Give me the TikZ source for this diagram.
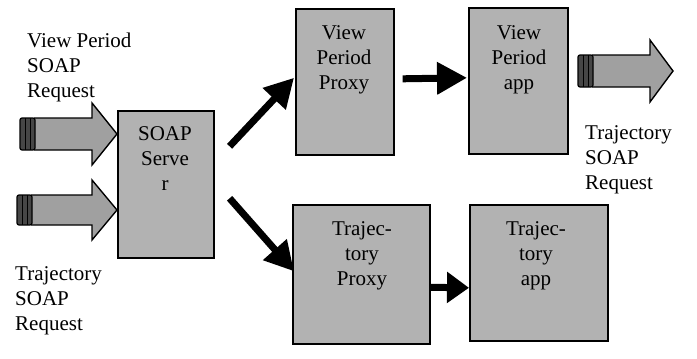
\documentclass[tikz,border=0pt]{standalone}
\usepackage{fontspec}
\setmainfont{Liberation Serif}
\usetikzlibrary{arrows.meta}
\definecolor{boxgray}{RGB}{178,178,178}
\definecolor{blockgray}{RGB}{160,160,160}
\definecolor{tailgray}{RGB}{70,70,70}
\tikzset{
  procbox/.style={draw=black, line width=1.6pt, fill=boxgray, inner sep=0pt, anchor=north west},
  boxtext/.style={anchor=north, align=center, inner sep=0pt, font=\fontsize{21}{25}\selectfont},
  labeltext/.style={anchor=north west, align=left, inner sep=0pt, font=\fontsize{21}{25}\selectfont},
  flow/.style={line width=7pt, -{Triangle[length=29pt,width=30pt]}},
  blockbody/.style={draw=black, line width=1.4pt, fill=blockgray, line join=miter},
  tailband/.style={draw=black, line width=1.2pt, fill=tailgray, rounded corners=2pt}
}
% block arrow: #1 tail x, #2 head start x, #3 tip x, #4 centre y, #5 half shaft, #6 half head
\newcommand{\blockarrow}[6]{%
  \draw[blockbody] (#1+14,#4-#5) -- (#2,#4-#5) -- (#2,#4-#6) -- (#3,#4)
     -- (#2,#4+#6) -- (#2,#4+#5) -- (#1+14,#4+#5);
  \draw[tailband] (#1,#4-#5) rectangle (#1+15,#4+#5);
  \draw[black, line width=1pt] (#1+5,#4-#5) -- (#1+5,#4+#5);
  \draw[black, line width=1pt] (#1+10,#4-#5) -- (#1+10,#4+#5);
}
\begin{document}
\begin{tikzpicture}[x=1pt, y=-1pt]
\useasboundingbox (0,0) rectangle (697,359);

% processing boxes
\node[procbox, minimum width=96pt, minimum height=147pt] (srv) at (117,110) {};
\node[procbox, minimum width=98pt, minimum height=146pt] (vpp) at (295,8) {};
\node[procbox, minimum width=99pt, minimum height=146pt] (vpa) at (468,7) {};
\node[procbox, minimum width=137pt, minimum height=139pt] (tjp) at (292,204) {};
\node[procbox, minimum width=138pt, minimum height=136pt] (tja) at (469,204) {};

% box captions
\node[boxtext] (srvt) at (165,126) {SOAP\\Serve\\r};
\node[boxtext] (vppt) at (344,25) {View\\Period\\Proxy};
\node[boxtext] (vpat) at (519,25) {View\\Period\\app};
\node[boxtext] (tjpt) at (362,221) {Trajec-\\tory\\Proxy};
\node[boxtext] (tjat) at (536,221) {Trajec-\\tory\\app};

% incoming and outgoing requests
\blockarrow{20}{92}{117}{134}{16}{31}
\blockarrow{17}{92}{117}{210}{15}{30}
\blockarrow{578}{650}{673}{71}{16}{31}

\node[labeltext] (inVP) at (27,33) {View Period\\SOAP\\Request};
\node[labeltext] (inTJ) at (15,266) {Trajectory\\SOAP\\Request};
\node[labeltext] (outTJ) at (585,125) {Trajectory\\SOAP\\Request};

% flow between components
\draw[flow] ([xshift=15pt,yshift=38pt]srv.east) -- ([xshift=-1pt,yshift=4pt]vpp.west);
\draw[flow] ([xshift=15pt,yshift=-14pt]srv.east) -- ([xshift=2pt,yshift=3pt]tjp.west);
\draw[flow, -{Triangle[length=30pt,width=31pt]}] ([xshift=8pt,yshift=3pt]vpp.east) -- ([xshift=-1pt,yshift=3pt]vpa.west);
\draw[flow, -{Triangle[length=22pt,width=30pt]}] ([yshift=-13pt]tjp.east) -- ([yshift=-15pt]tja.west);
\end{tikzpicture}
\end{document}
